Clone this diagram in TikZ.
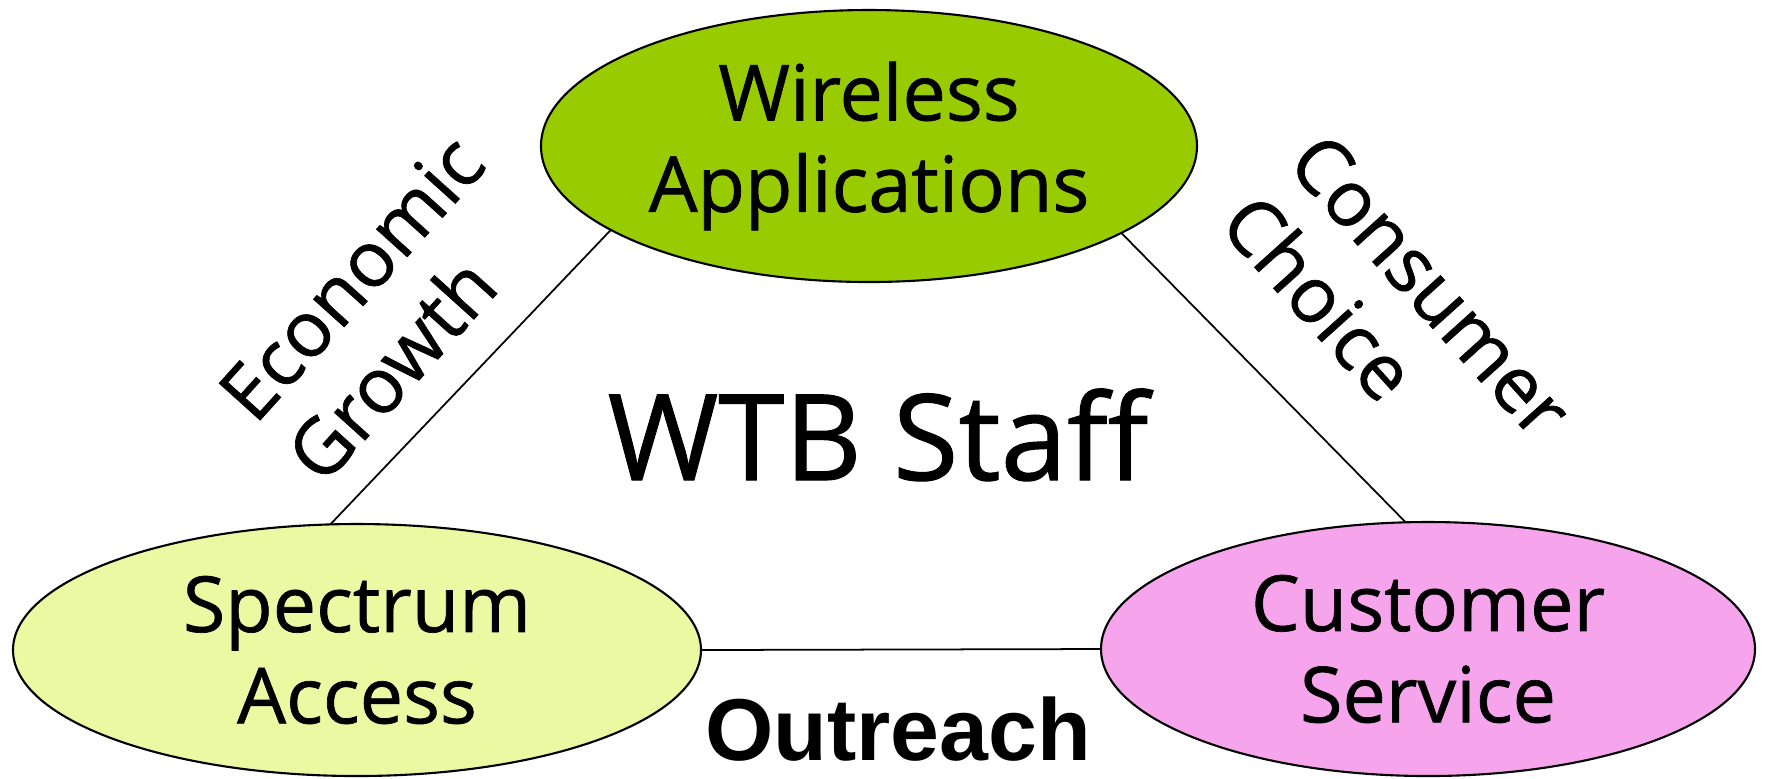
\documentclass[tikz,border=0pt]{standalone}
\usepackage{fontspec}
\setmainfont{Open Sans}[FakeBold=0.9]
\newfontfamily\arialfont{Liberation Sans}
\usepackage{tikz}
\usetikzlibrary{shapes.geometric, positioning}
\definecolor{verdeapp}{HTML}{99CC00}
\definecolor{gialloacc}{HTML}{EBF9A3}
\definecolor{rosaserv}{HTML}{F6A5EC}

\begin{document}
\begin{tikzpicture}[
  font=\fontsize{22}{26}\selectfont,
  ovale/.style={ellipse, draw=black, line width=0.6pt, align=center,
                inner sep=0pt, outer sep=0pt},
  etich/.style={align=left, inner sep=0pt},
  lato/.style={draw=black, line width=0.5pt}
]
\useasboundingbox (0,0) rectangle (17.67,-7.78);

%--------------------------------------------------------------
% I tre ovali
%--------------------------------------------------------------
\node[ovale, fill=verdeapp, minimum width=6.56cm, minimum height=2.72cm]
  (wapp) at (8.69,-1.46) {Wireless\\ Applications};
\node[ovale, fill=gialloacc, minimum width=6.88cm, minimum height=2.52cm]
  (spec) at (3.57,-6.50) {Spectrum\\ Access};
\node[ovale, fill=rosaserv, minimum width=6.54cm, minimum height=2.54cm]
  (cust) at (14.28,-6.49) {Customer\\ Service};

%--------------------------------------------------------------
% Lati del triangolo
%--------------------------------------------------------------
\draw[lato] (wapp.198.5) -- (spec.102);
\draw[lato] (wapp.341.6) -- (cust.100);
\draw[lato] (spec.east) -- (cust.west);

%--------------------------------------------------------------
% Scritte
%--------------------------------------------------------------
\node[etich, rotate=48] (econ) at (3.85,-3.08) {Economic\\ Growth};
\node[etich, rotate=-48] (cons) at (13.97,-3.16) {Consumer\\ Choice};
\node[inner sep=0pt, anchor=base, font=\fontsize{34}{40}\selectfont]
  (staff) at (8.78,-4.80) {WTB Staff};
\node[inner sep=0pt, anchor=base, font=\arialfont\bfseries\fontsize{25}{30}\selectfont]
  (outr) at (8.98,-7.60) {Outreach};

\end{tikzpicture}
\end{document}
